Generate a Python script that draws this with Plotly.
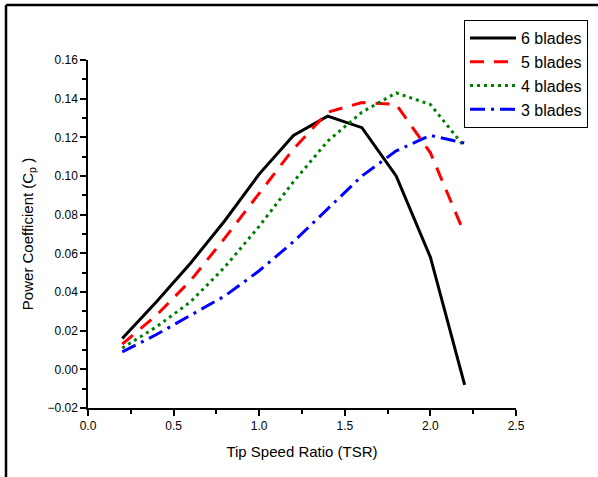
import plotly.graph_objects as go

tsr = [0.2, 0.4, 0.6, 0.8, 1.0, 1.2, 1.4, 1.6, 1.8, 2.0, 2.2]
cp_6 = [0.016, 0.035, 0.055, 0.077, 0.101, 0.121, 0.131, 0.125, 0.100, 0.058, -0.008]
cp_5 = [0.013, 0.028, 0.046, 0.068, 0.091, 0.114, 0.133, 0.138, 0.137, 0.112, 0.070]
cp_4 = [0.011, 0.022, 0.035, 0.053, 0.074, 0.097, 0.118, 0.133, 0.143, 0.137, 0.115]
cp_3 = [0.009, 0.018, 0.028, 0.038, 0.051, 0.066, 0.083, 0.100, 0.113, 0.121, 0.117]

series = [
    ("6 blades", cp_6, "black", "solid"),
    ("5 blades", cp_5, "red", "14px,10px"),
    ("4 blades", cp_4, "green", "3px,4px"),
    ("3 blades", cp_3, "blue", "15px,6px,3px,6px"),
]

fig = go.Figure()
for name, ys, color, dash in series:
    fig.add_trace(go.Scatter(x=tsr, y=ys, mode="lines", name=name,
                             line=dict(color=color, width=3, dash=dash)))

W, H = 598, 477
L, R, T, B = 88, 516, 60, 408

def px_x(p):
    return (p - L) / (R - L)

def px_y(p):
    return (B - p) / (B - T)

font = "Arial, Liberation Sans, sans-serif"

fig.update_layout(
    width=W, height=H,
    margin=dict(l=L, r=W - R, t=T, b=H - B, pad=0, autoexpand=False),
    paper_bgcolor="white", plot_bgcolor="white",
    font=dict(family=font, size=12, color="black"),
    showlegend=True,
    legend=dict(x=px_x(464), y=px_y(20), xanchor="left", yanchor="top",
                bordercolor="black", borderwidth=1, bgcolor="white",
                font=dict(size=16, family=font), tracegroupgap=0,
                itemwidth=46),
    xaxis=dict(range=[0, 2.5], dtick=0.5, tickformat=".1f",
               showgrid=False, zeroline=False, showline=True,
               linecolor="black", linewidth=1.5,
               ticks="outside", ticklen=6, tickwidth=1.5, tickcolor="black",
               minor=dict(dtick=0.25, ticks="outside", ticklen=4,
                          tickwidth=1.5, tickcolor="black", showgrid=False),
               tickfont=dict(size=12),
               title=dict(text="Tip Speed Ratio (TSR)", font=dict(size=15),
                          standoff=14)),
    yaxis=dict(range=[-0.02, 0.16], dtick=0.02, tickformat=".2f",
               showgrid=False, zeroline=False, showline=True,
               linecolor="black", linewidth=1.5,
               ticks="outside", ticklen=6, tickwidth=1.5, tickcolor="black",
               minor=dict(dtick=0.01, ticks="outside", ticklen=4,
                          tickwidth=1.5, tickcolor="black", showgrid=False),
               tickfont=dict(size=12),
               title=dict(text="Power Coefficient (C<sub>p</sub> )",
                          font=dict(size=15), standoff=10)),
)

# outer frame (left and top edges of the figure border)
fig.add_shape(type="line", xref="paper", yref="paper",
              x0=px_x(6), x1=px_x(6), y0=px_y(5), y1=px_y(480),
              line=dict(color="black", width=2.5))
fig.add_shape(type="line", xref="paper", yref="paper",
              x0=px_x(6), x1=px_x(600), y0=px_y(5), y1=px_y(5),
              line=dict(color="black", width=2.5))

fig.write_html("out.html")
